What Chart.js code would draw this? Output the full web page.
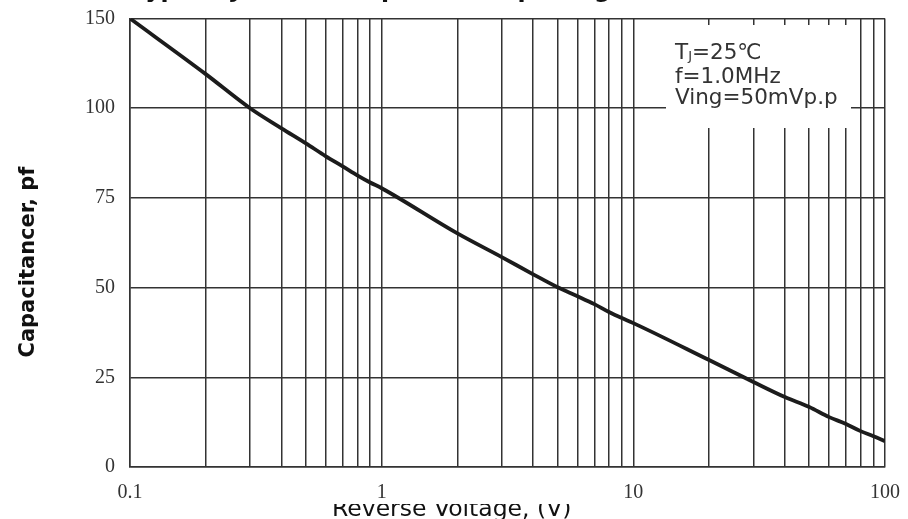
<!DOCTYPE html>
<html>
<head>
<meta charset="utf-8">
<title>Typical Junction Capacitance</title>
<style>
  html, body { margin: 0; padding: 0; background: #fff; overflow: hidden; }
  #wrap { width: 908px; height: 519px; }
</style>
<script src="https://cdn.jsdelivr.net/npm/chart.js@4.4.1/dist/chart.umd.min.js"></script>
</head>
<body>
<div id="wrap"><canvas id="capChart"></canvas></div>
<script>
'use strict';

// ── Data ──────────────────────────────────────────────────────────────────────
const voltage     = [0.1, 0.2, 0.3, 0.4, 0.5, 0.6, 0.7, 0.8, 0.9, 1, 2, 3, 4, 5, 6, 7, 8, 9, 10, 20, 30, 40, 50, 60, 70, 80, 90, 100];
const capacitance = [150, 119, 100, 94.4, 90.2, 86.6, 83.8, 81.3, 79.3, 77.7, 65.1, 58.5, 53.7, 50.1, 47.6, 45.4, 43.2, 41.5, 40.1, 29.8, 23.7, 19.5, 16.7, 13.9, 12.0, 10.0, 8.6, 7.2];

const xGridValues  = [0.1, 0.2, 0.3, 0.4, 0.5, 0.6, 0.7, 0.8, 0.9, 1, 2, 3, 4, 5, 6, 7, 8, 9, 10, 20, 30, 40, 50, 60, 70, 80, 90, 100];
const xLabelValues = [0.1, 1, 10, 100];
const yTickValues  = [0, 25, 50, 75, 100, 150];

const titleText = 'Typical Junction Capacitance per leg';
const xTitle    = 'Reverse Voltage, (V)';
const yTitle    = 'Capacitancer, pf';
const notes     = ['f=1.0MHz', 'Ving=50mVp.p'];

// The original y axis is evenly spaced but the last step is 100 -> 150,
// so values above 100 are squeezed to half scale.
function toAxis(pf) {
  return pf <= 100 ? pf : 100 + (pf - 100) / 2;
}

const GRID = '#333';
const SANS = '"DejaVu Sans", sans-serif';
const SERIF = '"Liberation Serif", "Times New Roman", serif';

// ── Extra drawing: title, axis titles, condition box ──────────────────────────
const decorPlugin = {
  id: 'decor',
  beforeDatasetsDraw(chart) {
    const ctx = chart.ctx;
    ctx.save();
    ctx.fillStyle = '#fff';
    ctx.fillRect(666, 25, 185, 103);
    ctx.restore();
  },
  afterDraw(chart) {
    const ctx = chart.ctx;
    ctx.save();
    ctx.fillStyle = '#111';
    ctx.textBaseline = 'alphabetic';
    ctx.textAlign = 'left';

    // title sits almost entirely above the picture, only descenders show
    ctx.font = 'bold 23.5px ' + SANS;
    ctx.fillText(titleText, 132, -3);

    // y axis title
    ctx.save();
    ctx.translate(34, 262);
    ctx.rotate(-Math.PI / 2);
    ctx.textAlign = 'center';
    ctx.font = 'bold 21px ' + SANS;
    ctx.fillText(yTitle, 0, 0);
    ctx.restore();

    // x axis title, its upper part is hidden in the original
    ctx.save();
    ctx.beginPath();
    ctx.rect(0, 504, 908, 30);
    ctx.clip();
    ctx.font = '23.5px ' + SANS;
    ctx.fillText(xTitle, 332, 516);
    ctx.restore();

    // test conditions
    ctx.fillStyle = '#333';
    let x = 675;
    ctx.font = '21.5px ' + SANS;
    ctx.fillText('T', x, 59);
    x += ctx.measureText('T').width;
    ctx.font = '13px ' + SANS;
    ctx.fillText('J', x, 60);
    x += ctx.measureText('J').width;
    ctx.font = '21.5px ' + SANS;
    ctx.fillText('=25\u2103', x, 59);
    ctx.fillText(notes[0], 675, 82.5);
    ctx.fillText(notes[1], 675, 104);
    ctx.restore();
  }
};

// ── Chart ─────────────────────────────────────────────────────────────────────
const ctx = document.getElementById('capChart').getContext('2d');

new Chart(ctx, {
  type: 'line',
  data: {
    datasets: [{
      data: voltage.map((v, i) => ({ x: v, y: toAxis(capacitance[i]) })),
      borderColor: '#1c1c1c',
      borderWidth: 3.8,
      pointRadius: 0,
      cubicInterpolationMode: 'monotone',
      fill: false
    }]
  },
  options: {
    responsive: true,
    maintainAspectRatio: false,
    animation: false,
    layout: { padding: { left: 0, right: 23, top: 18.5, bottom: 0 } },
    plugins: {
      legend: { display: false },
      tooltip: { enabled: false }
    },
    scales: {
      x: {
        type: 'logarithmic',
        min: 0.1,
        max: 100,
        afterBuildTicks: scale => { scale.ticks = xGridValues.map(v => ({ value: v })); },
        afterFit: scale => {
          scale.height = 52;
          scale.paddingLeft = 0;
          scale.paddingRight = 0;
        },
        ticks: {
          autoSkip: false,
          maxRotation: 0,
          padding: 14,
          color: '#333',
          font: { family: SERIF, size: 20 },
          callback: value => xLabelValues.includes(value) ? String(value) : ''
        },
        grid: { color: GRID, lineWidth: 1.5, drawTicks: false },
        border: { display: true, color: GRID, width: 1.5 }
      },
      y: {
        type: 'linear',
        min: 0,
        max: toAxis(150),
        afterBuildTicks: scale => { scale.ticks = yTickValues.map(v => ({ value: toAxis(v) })); },
        afterFit: scale => {
          scale.width = 130;
          scale.paddingTop = 0;
          scale.paddingBottom = 0;
        },
        ticks: {
          padding: 15,
          color: '#333',
          font: { family: SERIF, size: 20 },
          callback: (value, index) => String(yTickValues[index])
        },
        grid: { color: GRID, lineWidth: 1.5, drawTicks: false },
        border: { display: true, color: GRID, width: 1.5 }
      }
    }
  },
  plugins: [decorPlugin]
});
</script>
</body>
</html>
